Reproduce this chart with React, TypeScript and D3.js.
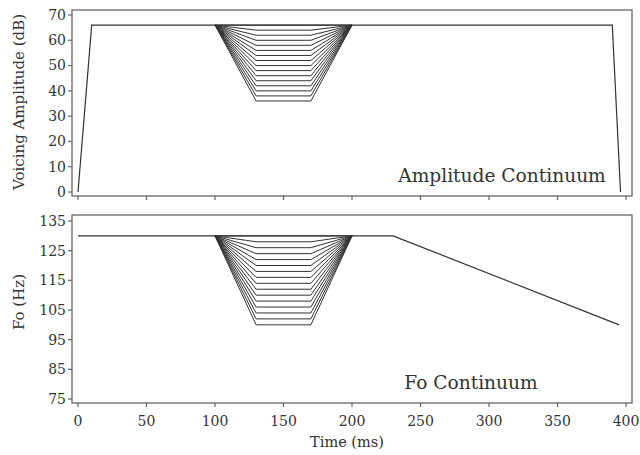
import React from "react";
import * as d3 from "d3";

const xTicks = [0, 50, 100, 150, 200, 250, 300, 350, 400];
const ampTicks = [0, 10, 20, 30, 40, 50, 60, 70];
const foTicks = [75, 85, 95, 105, 115, 125, 135];

// Voicing amplitude contour (ms, dB)
const ampTimes = [0, 10, 390, 396];
const ampValues = [0, 66, 66, 0];
// Fo contour (ms, Hz)
const foTimes = [0, 230, 395];
const foValues = [130, 130, 100];

// Continuum dip timing (ms): onset, reach minimum, leave minimum, offset
const dipTimes = [100, 130, 170, 200];
const ampBase = 66;
const ampMinima = [66, 64, 62, 60, 58, 56, 54, 52, 50, 48, 46, 44, 42, 40, 38, 36];
const foBase = 130;
const foMinima = [130, 128, 126, 124, 122, 120, 118, 116, 114, 112, 110, 108, 106, 104, 102, 100];

const W = 640;
const H = 455;
const FONT = "'DejaVu Serif', 'Liberation Serif', serif";
const INK = "#333";
const FRAME = "#666";

export default function App() {
  const x = d3.scaleLinear().domain([0, 400]).range([78, 626]);
  const yA = d3.scaleLinear().domain([0, 70]).range([192, 15]);
  const yF = d3.scaleLinear().domain([75, 135]).range([399, 221]);

  const frameL = 72, frameR = 632;
  const topT = 10, topB = 196;
  const botT = 215, botB = 403;

  const lineA = d3.line<[number, number]>().x((d) => x(d[0])).y((d) => yA(d[1]));
  const lineF = d3.line<[number, number]>().x((d) => x(d[0])).y((d) => yF(d[1]));

  const ampPts = ampTimes.map((t, i) => [t, ampValues[i]] as [number, number]);
  const foPts = foTimes.map((t, i) => [t, foValues[i]] as [number, number]);

  const dip = (base: number, m: number) =>
    [[dipTimes[0], base], [dipTimes[1], m], [dipTimes[2], m], [dipTimes[3], base]] as [number, number][];

  return (
    <svg width={W} height={H} style={{ position: "absolute", left: 0, top: 0, background: "#fff" }}>
      <rect x={0} y={0} width={W} height={H} fill="#fff" />
      {/* Top panel frame */}
      <rect x={frameL} y={topT} width={frameR - frameL} height={topB - topT} fill="none" stroke={FRAME} strokeWidth={1.3} />
      {/* Bottom panel frame */}
      <rect x={frameL} y={botT} width={frameR - frameL} height={botB - botT} fill="none" stroke={FRAME} strokeWidth={1.3} />

      {/* Top y ticks */}
      {ampTicks.map((t) => (
        <g key={"a" + t}>
          <line x1={frameL - 4} x2={frameL} y1={yA(t)} y2={yA(t)} stroke={FRAME} strokeWidth={1.2} />
          <text x={frameL - 6} y={yA(t)} dy="0.35em" textAnchor="end" fontFamily={FONT} fontSize={14} fill={INK}>{t}</text>
        </g>
      ))}
      {/* Bottom y ticks */}
      {foTicks.map((t) => (
        <g key={"f" + t}>
          <line x1={frameL - 4} x2={frameL} y1={yF(t)} y2={yF(t)} stroke={FRAME} strokeWidth={1.2} />
          <text x={frameL - 6} y={yF(t)} dy="0.35em" textAnchor="end" fontFamily={FONT} fontSize={14} fill={INK}>{t}</text>
        </g>
      ))}
      {/* X ticks both panels */}
      {xTicks.map((t) => (
        <g key={"x" + t}>
          <line x1={x(t)} x2={x(t)} y1={topB} y2={topB + 4} stroke={FRAME} strokeWidth={1.2} />
          <line x1={x(t)} x2={x(t)} y1={botB} y2={botB + 4} stroke={FRAME} strokeWidth={1.2} />
          <text x={x(t)} y={426} textAnchor="middle" fontFamily={FONT} fontSize={14} fill={INK}>{t}</text>
        </g>
      ))}

      {/* Amplitude contour */}
      <path d={lineA(ampPts) || ""} fill="none" stroke={INK} strokeWidth={1.2} />
      {ampMinima.map((m, i) => (
        <path key={"ad" + i} d={lineA(dip(ampBase, m)) || ""} fill="none" stroke={INK} strokeWidth={1} />
      ))}

      {/* Fo contour */}
      <path d={lineF(foPts) || ""} fill="none" stroke={INK} strokeWidth={1.2} />
      {foMinima.map((m, i) => (
        <path key={"fd" + i} d={lineF(dip(foBase, m)) || ""} fill="none" stroke={INK} strokeWidth={1} />
      ))}

      {/* Panel labels */}
      <text x={502} y={182} textAnchor="middle" fontFamily={FONT} fontSize={18.6} fill={INK}>Amplitude Continuum</text>
      <text x={471} y={389} textAnchor="middle" fontFamily={FONT} fontSize={18.6} fill={INK}>Fo Continuum</text>

      {/* Axis titles */}
      <text transform={`translate(24,${102}) rotate(-90)`} textAnchor="middle" fontFamily={FONT} fontSize={15} fill={INK}>Voicing Amplitude (dB)</text>
      <text transform={`translate(24,${302}) rotate(-90)`} textAnchor="middle" fontFamily={FONT} fontSize={15} fill={INK}>Fo (Hz)</text>
      <text x={347} y={447} textAnchor="middle" fontFamily={FONT} fontSize={14.5} fill={INK}>Time (ms)</text>
    </svg>
  );
}
